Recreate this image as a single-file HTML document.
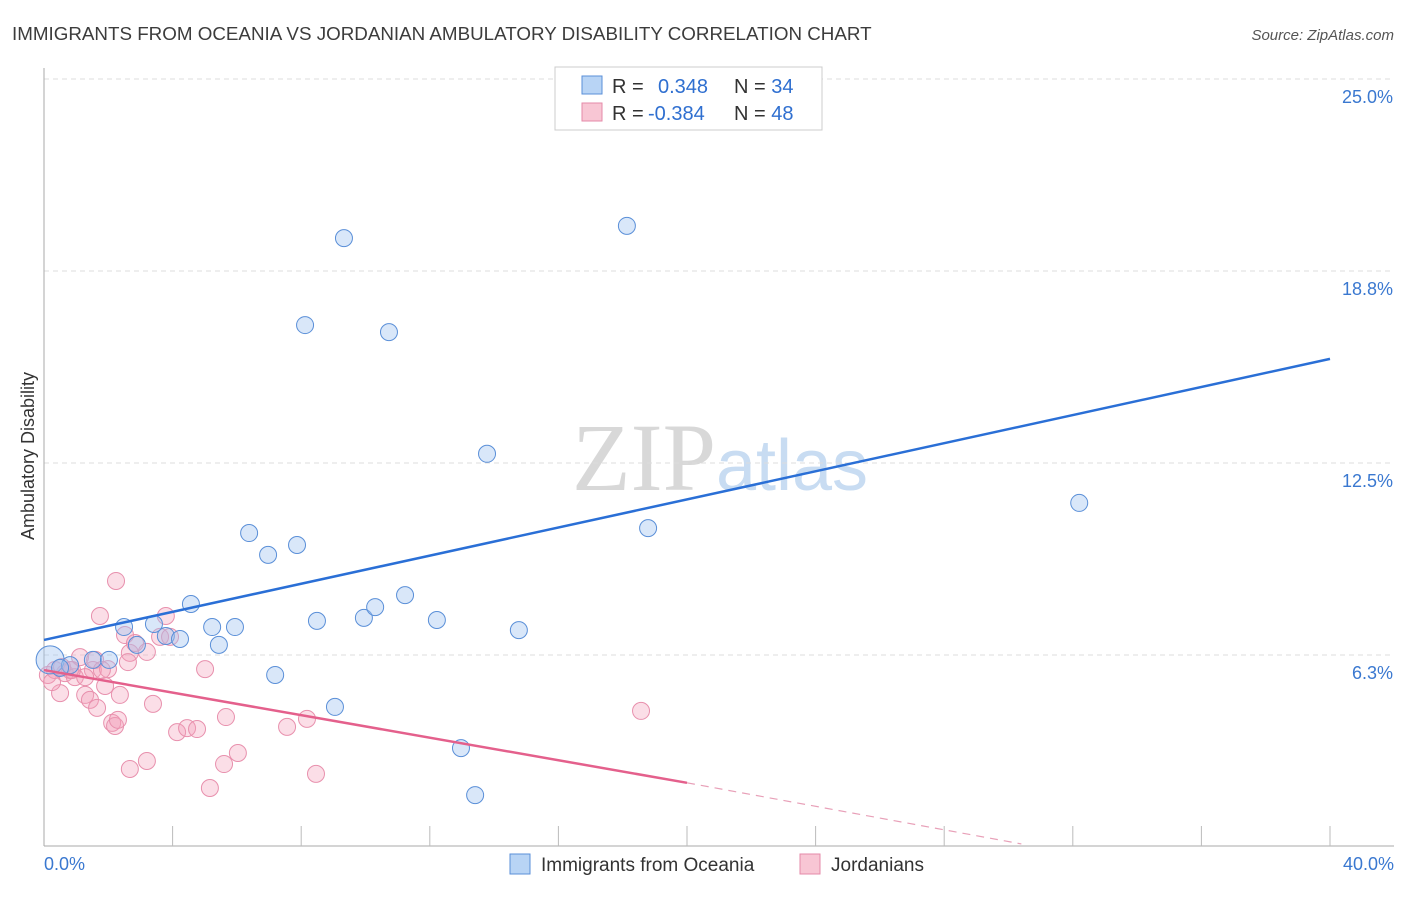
<!DOCTYPE html>
<html><head><meta charset="utf-8"><style>
body{margin:0;background:#fff;font-family:"Liberation Sans",sans-serif}
</style></head><body>
<svg width="1406" height="892" xmlns="http://www.w3.org/2000/svg" font-family="Liberation Sans, sans-serif">
<text x="12" y="40" font-size="18.8" fill="#3c3c3c">IMMIGRANTS FROM OCEANIA VS JORDANIAN AMBULATORY DISABILITY CORRELATION CHART</text>
<text x="1394" y="40" font-size="15" fill="#555" text-anchor="end" font-style="italic">Source: ZipAtlas.com</text>
<text x="720" y="490" font-size="96" text-anchor="middle"><tspan fill="#d8d8d8" font-family="Liberation Serif, serif">ZIP</tspan><tspan fill="#c8dcf2" font-size="72">atlas</tspan></text>
<g id="grid"></g>
<g id="axes"></g>
<g id="pts"></g>
<g id="lines"></g>
<text transform="translate(34,456) rotate(-90)" font-size="18" fill="#333" text-anchor="middle">Ambulatory Disability</text>
<text x="44" y="870" font-size="18" fill="#3a78d0">0.0%</text>
<text x="1394" y="870" font-size="18" fill="#3a78d0" text-anchor="end">40.0%</text>
<g>
<rect x="555" y="67" width="267" height="63" fill="#fff" stroke="#ccc"/>
<rect x="582" y="76" width="20" height="18" fill="#b8d4f5" stroke="#5a8fd8"/>
<rect x="582" y="103" width="20" height="18" fill="#f8c6d4" stroke="#e58aa8"/>
<text x="612" y="93" font-size="20" fill="#333">R = <tspan fill="#2f6fd0" x="658">0.348</tspan><tspan x="734">N = </tspan><tspan fill="#2f6fd0">34</tspan></text>
<text x="612" y="120" font-size="20" fill="#333">R = <tspan fill="#2f6fd0" x="648">-0.384</tspan><tspan x="734">N = </tspan><tspan fill="#2f6fd0">48</tspan></text>
</g>
<g>
<rect x="510" y="854" width="20" height="20" fill="#b8d4f5" stroke="#5a8fd8"/>
<text x="541" y="871" font-size="19" fill="#333">Immigrants from Oceania</text>
<rect x="800" y="854" width="20" height="20" fill="#f8c6d4" stroke="#e58aa8"/>
<text x="831" y="871" font-size="19" fill="#333">Jordanians</text>
</g>
</svg>
<script>
const yTicks=[6.25,12.5,18.75,25];
const yTickLabels=["6.3%","12.5%","18.8%","25.0%"];
const blueX=[0.19,1.52,2.02,2.49,2.89,3.42,3.79,4.23,4.57,5.23,5.44,5.94,6.38,6.97,7.19,7.87,8.12,8.49,9.05,9.33,9.95,10.3,10.73,11.23,12.22,12.97,13.41,13.78,14.77,18.13,18.79,32.2,0.81,0.5];
const blueY=[6.09,6.09,6.09,7.16,6.58,7.26,6.87,6.77,7.91,7.16,6.58,7.16,10.22,9.51,5.6,9.83,16.99,7.36,4.56,19.82,7.46,7.81,16.76,8.2,7.39,3.22,1.69,12.8,7.06,20.22,10.38,11.2,5.92,5.83];
const pinkX=[0.12,0.34,0.5,0.65,0.81,0.96,1.12,1.28,1.43,1.52,1.65,1.74,1.9,1.99,2.12,2.21,2.3,2.24,2.36,2.52,2.67,2.67,2.83,3.2,3.2,3.39,3.61,3.79,3.92,4.14,4.45,4.76,5.01,5.16,5.6,5.66,6.03,7.56,8.18,8.46,18.57,0.25,0.56,1.28,1.59,0.87,1.8,2.61];
const pinkY=[5.6,5.76,5.01,5.66,5.76,5.53,6.18,4.95,4.79,5.76,4.53,7.52,5.24,5.79,4.04,3.94,4.14,8.66,4.95,6.9,6.32,2.54,6.64,2.8,6.35,4.66,6.84,7.52,6.84,3.74,3.87,3.84,5.79,1.92,2.7,4.23,3.06,3.91,4.17,2.38,4.43,5.37,5.86,5.53,6.09,5.76,5.76,6.02];
const blueLine=[[0,6.74],[40,15.89]];
const pinkSolid=[[0,5.76],[20,2.09]];
const pinkDash=[[20,2.09],[30.4,0.1]];
const X=v=>44+v*32.15, Y=v=>847-v*30.72;
const NS="http://www.w3.org/2000/svg";
function mk(p,t,a){const e=document.createElementNS(NS,t);for(const k in a)e.setAttribute(k,a[k]);document.getElementById(p).appendChild(e);return e;}
yTicks.forEach((t,i)=>{
 const l=mk('grid','line',{x1:44,x2:1394,y1:Y(t),y2:Y(t),stroke:'#ddd','stroke-dasharray':'5,4'});
 
 
 const tx=mk('grid','text',{x:1393,y:Y(t)+24,'font-size':18,fill:'#3a78d0','text-anchor':'end'});
 tx.textContent=yTickLabels[i];
 
 
});
let a=mk('axes','line',{x1:44,x2:44,y1:68,y2:846,stroke:'#aaa'});


a=mk('axes','line',{x1:44,x2:1394,y1:846,y2:846,stroke:'#aaa'});


for(let i=1;i<=10;i++){const t=mk('axes','line',{x1:X(i*4),x2:X(i*4),y1:826,y2:846,stroke:'#bbb'});
 
 }
pinkX.forEach((x,i)=>{const c=mk('pts','circle',{cx:X(x),cy:Y(pinkY[i]),r:8.5,fill:'rgba(244,160,185,0.35)',stroke:'#e890ad','stroke-width':1});
 
 });
blueX.forEach((x,i)=>{const c=mk('pts','circle',{cx:X(x),cy:Y(blueY[i]),r:i==0?14:8.5,fill:'rgba(160,196,240,0.4)',stroke:'#5a8fd8','stroke-width':1});
 
 });
function ln(d,col,w,dash,name){const l=mk('lines','line',{x1:X(d[0][0]),y1:Y(d[0][1]),x2:X(d[1][0]),y2:Y(d[1][1]),stroke:col,'stroke-width':w});
 if(dash)l.setAttribute('stroke-dasharray',dash);
 
 }
ln(blueLine,'#2a6fd6',2.5,null,'oceania-trend-line');
ln(pinkSolid,'#e4608c',2.5,null,'jordanians-trend-line');
ln(pinkDash,'#e8a0b8',1.2,'8,6','jordanians-trend-extension');
</script>
</body></html>
